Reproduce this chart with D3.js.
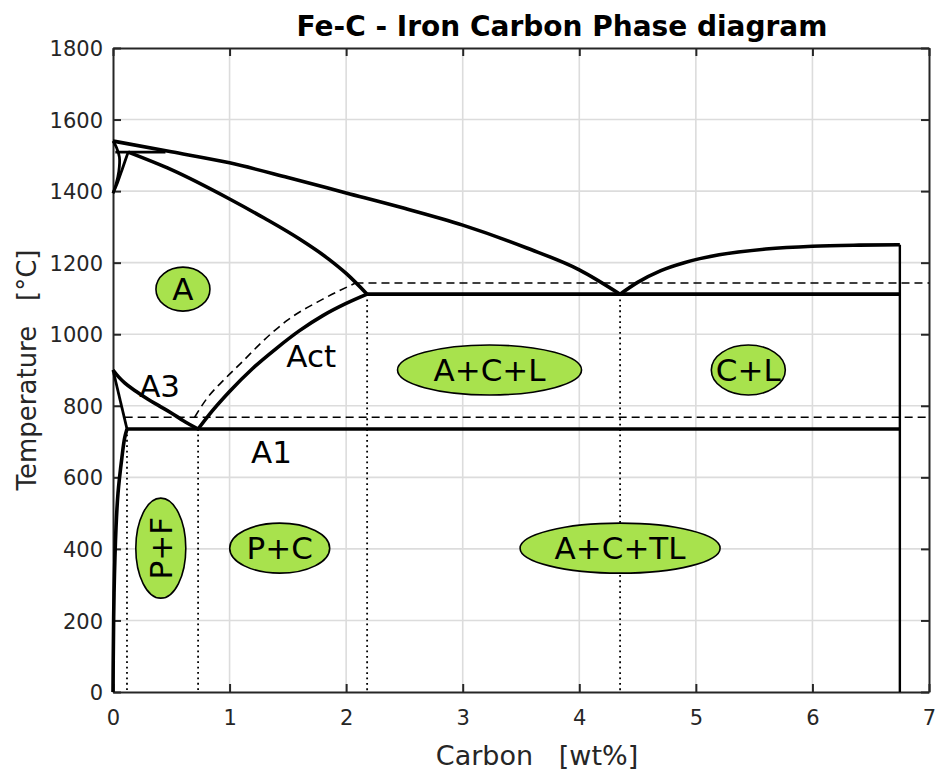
<!DOCTYPE html>
<html>
<head>
<meta charset="utf-8">
<script src="https://cdn.jsdelivr.net/npm/d3@7"></script>
<style>
  html, body { margin: 0; padding: 0; background: #fff; }
  svg text { font-family: "DejaVu Sans", Verdana, sans-serif; white-space: pre; }
</style>
</head>
<body>
<svg id="chart" width="937" height="772"></svg>
<script>
// Axis ticks
const xTicks = [0, 1, 2, 3, 4, 5, 6, 7];
const yTicks = [0, 200, 400, 600, 800, 1000, 1200, 1400, 1600, 1800];

// Phase boundaries as [carbon wt%, temperature °C]
const liquidusLeft = [[0, 1540], [0.5, 1510], [1, 1479], [1.5, 1438], [2, 1395], [2.5, 1352], [3, 1305], [3.55, 1241], [4.0, 1180], [4.35, 1112]];
const liquidusRight = [[4.35, 1112], [4.5, 1145], [4.7, 1178], [4.9, 1200], [5.2, 1222], [5.6, 1238], [6.0, 1246], [6.4, 1249], [6.75, 1250]];
const solidus = [[0.13, 1509], [0.5, 1460], [1.0, 1378], [1.3, 1324], [1.6, 1266], [1.85, 1210], [2.0, 1170], [2.18, 1112]];
const deltaOuter = [[0, 1540], [0.03, 1522], [0.055, 1495], [0.05, 1455], [0.025, 1418], [0, 1394]];
const deltaInner = [[0, 1394], [0.04, 1425], [0.08, 1462], [0.13, 1509]];
const peritectic = [[0.02, 1509], [0.45, 1509]];
const eutectic = [[2.18, 1112], [6.75, 1112]];
const eutectoid = [[0.12, 735], [6.75, 735]];
const cementite = [[6.75, 1250], [6.75, 0]];
const a3Line = [[0, 900], [0.05, 880], [0.1, 864], [0.2, 840], [0.3, 818], [0.4, 799], [0.5, 780], [0.6, 759], [0.73, 735]];
const ferriteA3 = [[0, 900], [0.12, 735]];
const ferriteSolvus = [[0.12, 735], [0.1, 710], [0.077, 657], [0.043, 556], [0.026, 461], [0.009, 277], [0.002, 89], [0, 0]];
const acmLine = [[0.73, 735], [0.85, 785], [1.0, 840], [1.2, 905], [1.4, 960], [1.6, 1010], [1.8, 1052], [2.0, 1086], [2.18, 1112]];

// Stable (graphite) system, dashed
const acmGraphite = [[0.7, 768], [0.8, 818], [0.95, 872], [1.1, 920], [1.3, 985], [1.5, 1040], [1.8, 1098], [2.08, 1143]];
const eutecticGraphite = [[2.08, 1143], [7, 1143]];
const eutectoidGraphite = [[0.1, 768], [7, 768]];

// Dotted composition markers: [carbon, top temperature]
const dropLines = [[0.12, 735], [0.73, 735], [2.18, 1112], [4.35, 1112]];

// Phase field labels
const fieldNames = ["A", "A+C+L", "C+L", "P+F", "P+C", "A+C+TL"];
const fieldC = [0.6, 3.23, 5.45, 0.41, 1.43, 4.35];
const fieldT = [1126, 900, 900, 402, 402, 402];
const fieldRx = [27, 92, 37, 25, 50, 100];
const fieldRy = [22, 25, 25, 50, 25, 25];
const fieldRot = [false, false, false, true, false, false];

// Line labels
const lineNames = ["A3", "Act", "A1"];
const lineC = [0.4, 1.7, 1.36];
const lineT = [857, 940, 672];

const svg = d3.select("#chart");
const margin = { left: 113, right: 8, top: 48, bottom: 80 };
const W = 937, H = 772;

const x = d3.scaleLinear().domain([0, 7]).range([margin.left, W - margin.right]);
const y = d3.scaleLinear().domain([0, 1800]).range([H - margin.bottom, margin.top]);

// Grid
const grid = svg.append("g");
grid.selectAll(".gx").data(xTicks.slice(1, -1)).join("line")
  .attr("x1", d => x(d)).attr("x2", d => x(d))
  .attr("y1", y(0)).attr("y2", y(1800))
  .attr("stroke", "#dcdcdc").attr("stroke-width", 1.6);
grid.selectAll(".gy").data(yTicks.slice(1, -1)).join("line")
  .attr("x1", x(0)).attr("x2", x(7))
  .attr("y1", d => y(d)).attr("y2", d => y(d))
  .attr("stroke", "#dcdcdc").attr("stroke-width", 1.6);

// Axes (boxed, ticks pointing inward)
const axisColor = "#262626";
const tickLen = 8;
const axB = svg.append("g").attr("transform", `translate(0,${y(0)})`)
  .call(d3.axisBottom(x).tickValues(xTicks).tickFormat(d3.format("d")).tickSizeInner(-tickLen).tickSizeOuter(0).tickPadding(18));
const axL = svg.append("g").attr("transform", `translate(${x(0)},0)`)
  .call(d3.axisLeft(y).tickValues(yTicks).tickFormat(d3.format("d")).tickSizeInner(-tickLen).tickSizeOuter(0).tickPadding(10));
const axT = svg.append("g").attr("transform", `translate(0,${y(1800)})`)
  .call(d3.axisTop(x).tickValues(xTicks).tickFormat("").tickSizeInner(-tickLen).tickSizeOuter(0));
const axR = svg.append("g").attr("transform", `translate(${x(7)},0)`)
  .call(d3.axisRight(y).tickValues(yTicks).tickFormat("").tickSizeInner(-tickLen).tickSizeOuter(0));
[axB, axL, axT, axR].forEach(g => {
  g.select(".domain").attr("stroke", axisColor).attr("stroke-width", 2);
  g.selectAll(".tick line").attr("stroke", axisColor).attr("stroke-width", 2);
  g.selectAll(".tick text").attr("fill", "#262626").style("font-size", "21px")
    .style("font-family", "'DejaVu Sans', Verdana, sans-serif");
});
axL.selectAll(".tick text").attr("dy", "0.36em");

// Curve generators
const line = d3.line().x(d => x(d[0])).y(d => y(d[1]));
const mono = d3.line().x(d => x(d[0])).y(d => y(d[1])).curve(d3.curveMonotoneX);
const smooth = d3.line().x(d => x(d[0])).y(d => y(d[1])).curve(d3.curveCatmullRom.alpha(0.5));
const plot = svg.append("g").attr("fill", "none").attr("stroke", "#000");

function draw(data, gen, width, dash) {
  const p = plot.append("path").datum(data).attr("d", gen)
    .attr("stroke-width", width).attr("stroke-linejoin", "round").attr("stroke-linecap", "butt");
  if (dash) p.attr("stroke-dasharray", dash);
  return p;
}

// Dotted and dashed guides beneath the solid boundaries
dropLines.forEach(d => draw([[d[0], d[1]], [d[0], 0]], line, 1.8, "1.8,3.6"));
draw(eutectoidGraphite, line, 1.6, "8,5");
draw(eutecticGraphite, line, 1.6, "8,5");
draw(acmGraphite, mono, 1.6, "8,5");

// Solid boundaries
const thick = 3.6;
draw(liquidusLeft, mono, thick);
draw(liquidusRight, mono, thick);
draw(solidus, mono, thick);
draw(deltaOuter, smooth, 2.8);
draw(deltaInner, smooth, 2.8);
draw(peritectic, line, 2.8);
draw(eutectic, line, thick);
draw(eutectoid, line, thick);
draw(cementite, line, 2.4);
draw(a3Line, mono, thick);
draw(ferriteA3, line, 2.8);
draw(ferriteSolvus, smooth, thick);
draw(acmLine, mono, thick);

// Phase field ellipses
const fields = svg.append("g");
fieldNames.forEach((name, i) => {
  const cx = x(fieldC[i]), cy = y(fieldT[i]);
  fields.append("ellipse")
    .attr("cx", cx).attr("cy", cy).attr("rx", fieldRx[i]).attr("ry", fieldRy[i])
    .attr("fill", "#a8e24d").attr("stroke", "#000").attr("stroke-width", 1.6);
  fields.append("text")
    .attr("x", cx).attr("y", cy).attr("dy", "0.36em")
    .attr("text-anchor", "middle")
    .attr("transform", fieldRot[i] ? `rotate(-90,${cx},${cy})` : null)
    .style("font-size", "31px").attr("fill", "#000").text(name);
});

// Line labels
lineNames.forEach((name, i) => {
  svg.append("text").attr("x", x(lineC[i])).attr("y", y(lineT[i])).attr("dy", "0.36em")
    .attr("text-anchor", "middle").style("font-size", "31px").attr("fill", "#000").text(name);
});

// Title and axis titles
svg.append("text").attr("x", 562).attr("y", 36).attr("text-anchor", "middle")
  .style("font-size", "28px").style("font-weight", "bold").attr("fill", "#000")
  .text("Fe-C - Iron Carbon Phase diagram");
svg.append("text").attr("x", 537).attr("y", 765).attr("text-anchor", "middle")
  .style("font-size", "27px").attr("fill", "#262626").text("Carbon   [wt%]");
svg.append("text").attr("transform", `translate(36,${(y(0) + y(1800)) / 2}) rotate(-90)`)
  .attr("text-anchor", "middle").style("font-size", "26px").attr("fill", "#262626")
  .text("Temperature   [°C]");
</script>
</body>
</html>
